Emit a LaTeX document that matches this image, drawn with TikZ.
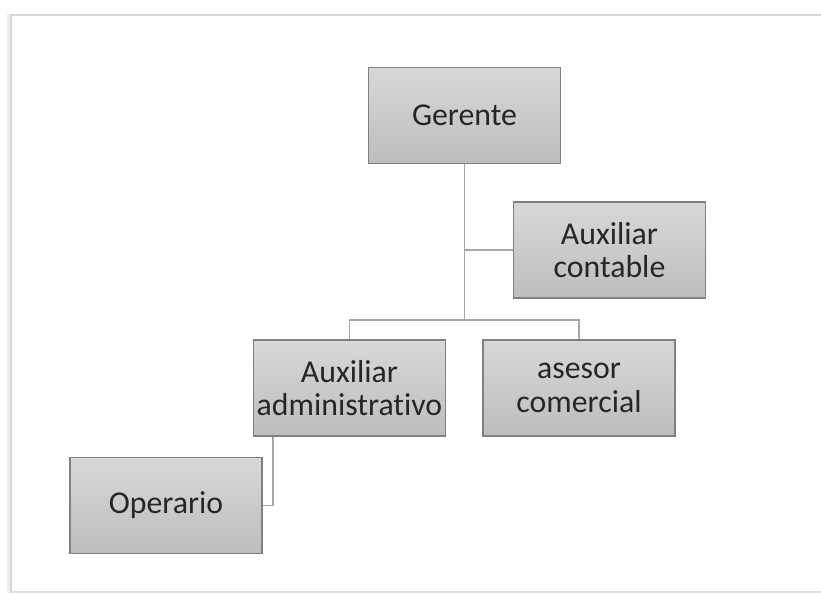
\documentclass[tikz,border=0pt]{standalone}
\usepackage{fontspec}
\setmainfont{Carlito}[Ligatures=NoCommon]
\definecolor{cajaarriba}{HTML}{D8D8D8}
\definecolor{cajaabajo}{HTML}{BDBDBD}
\definecolor{borde}{HTML}{808080}
\definecolor{linea}{HTML}{A6A6A6}
\begin{document}
\begin{tikzpicture}[x=1pt, y=1pt,
    puesto/.style={draw=borde, line width=1.2pt, top color=cajaarriba, bottom color=cajaabajo,
      minimum width=192pt, minimum height=96pt, inner sep=0pt, align=center,
      text=black!85, font=\fontsize{31.8}{33.5}\selectfont},
    enlace/.style={draw=linea, line width=1.6pt}]
    \useasboundingbox (0,0) rectangle (821,-593);

    % Draw the frame
    \draw[black!7, line width=5pt] (9,-14) -- (9,-593);
    \draw[black!16, line width=1.2pt] (11,-593) -- (11,-15) -- (821,-15);
    \draw[black!12, line width=1.2pt] (11,-592) -- (821,-592);

    % Draw the boxes
    \node[puesto] (gerente) at (464.5,-115.5) {Gerente};
    \node[puesto] (contable) at (609.5,-250) {Auxiliar\\contable};
    \node[puesto] (admin) at (349.5,-388) {Auxiliar\\administrativo};
    \node[puesto] (asesor) at (579,-388) {asesor\\comercial};
    \node[puesto] (operario) at (166,-505.5) {Operario};

    % Draw the lines between the boxes
    \coordinate (rama) at (gerente.south |- contable.west);
    \coordinate (bus) at (464.5,-320);
    \draw[enlace] (gerente.south) -- (bus);
    \draw[enlace] (rama) -- (contable.west);
    \draw[enlace] (admin.north) |- (bus) -| (asesor.north);
    \coordinate (bajada) at (273,-340);
    \draw[enlace] (bajada |- admin.south) |- (operario.east);

\end{tikzpicture}
\end{document}
